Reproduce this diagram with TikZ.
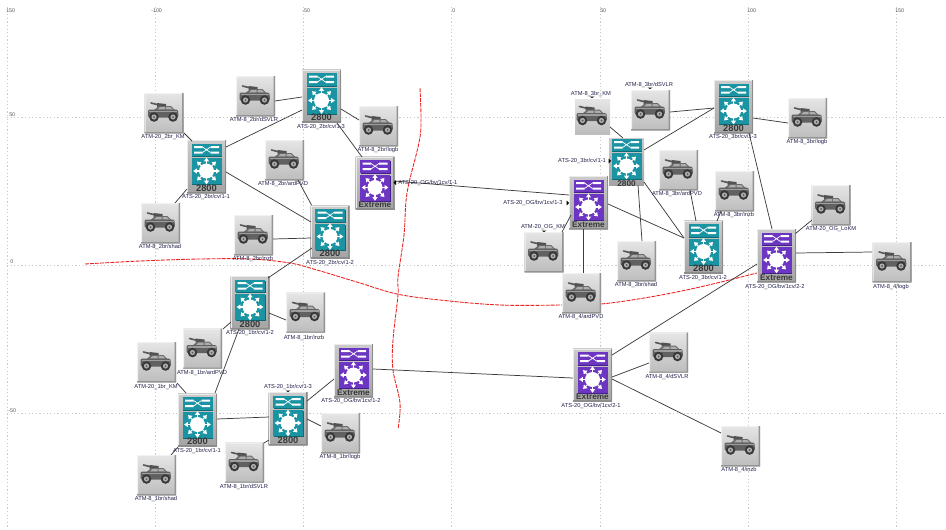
\documentclass[tikz,border=0pt]{standalone}
\usepackage{fontspec}
\setmainfont{Liberation Sans}
\definecolor{tealic}{HTML}{1A94A3}
\definecolor{tealdk}{HTML}{0E6A75}
\definecolor{purpic}{HTML}{6C35C2}
\definecolor{purpdk}{HTML}{43208A}
\definecolor{lblcol}{HTML}{20204A}
\definecolor{gridcol}{HTML}{C8C8C8}
\definecolor{linkcol}{HTML}{3C3C3C}
\definecolor{redcol}{HTML}{EE2020}
% main colour, dark colour, caption, caption font size, scale
\newcommand\swpic[5]{%
 \begin{scope}[shift={(path picture bounding box.center)},scale=#5]
  \fill[black!8] (-19.5,-26.5) rectangle (19.5,-25.5);
  \fill[black!8] (-19.5,-26.5) rectangle (-18.5,26.5);
  \fill[black!45] (19.5,-26.5) rectangle (18,26.5);
  \fill[black!45] (-19.5,26.5) rectangle (19.5,25.2);
  \fill[#2] (-14.5,-22) rectangle (15.5,-9.5);
  \fill[#1] (-15,-23) rectangle (15,-10.5);
  \fill[#2] (-14.5,-7.5) rectangle (15.5,18.5);
  \fill[#1] (-15,-8.5) rectangle (15,17.5);
  \fill[white] (-12.5,-20.5) rectangle (-4,-18.5) (4,-20.5) rectangle (12.5,-18.5)
               (-12.5,-15) rectangle (-4,-13) (4,-15) rectangle (12.5,-13);
  \draw[white,line width=.55pt] (-4,-19.5) -- (4,-14) (-4,-14) -- (4,-19.5);
  \fill[white] (0,4.5) circle (7.5);
  \foreach \a in {0,45,...,315}{
   \draw[white,line width=.8pt] (0,4.5) -- ++(\a:11);
   \fill[white] ([shift={(\a:13.3)}]0,4.5) -- ([shift={(\a+15:10)}]0,4.5) -- ([shift={(\a-15:10)}]0,4.5) -- cycle;
  }
  \node[inner sep=0pt,text=black!78,scale=#5] at (0,21.7) {\fontsize{#4}{#4}\selectfont\bfseries #3};
 \end{scope}}
% scale
\newcommand\vhpic[1]{%
 \begin{scope}[shift={(path picture bounding box.center)},scale=#1]
  \fill[black!5] (-19.5,-20) rectangle (19.5,-19) (-19.5,-20) rectangle (-18.5,20);
  \fill[black!42] (19.5,-20) rectangle (18,20) (-19.5,20) rectangle (19.5,19.2);
  \draw[black!65,line width=1.2pt,line cap=round] (-3,-7.5) -- (-13,-10);
  \fill[black!68] (-7,-10) -- (2,-9) -- (2,-6) -- (-7,-6) -- cycle;
  \fill[black!58] (-10,-3) -- (-5,-7) -- (7,-7) -- (11,-3) -- cycle;
  \fill[black!32] (-4,-6) -- (1,-6) -- (1,-3.5) -- (-6.5,-3.5) -- cycle (2,-6) -- (6.5,-6) -- (9,-3.5) -- (2,-3.5) -- cycle;
  \fill[black!62,rounded corners=1pt] (-16,-3.5) -- (14,-3.5) -- (14.5,4.5) -- (-16,4.5) -- cycle;
  \fill[black!38] (-15,-2.5) rectangle (13,-.8);
  \foreach \wx in {-10,9}{
   \fill[black!78] (\wx,4) circle (4.8);
   \fill[black!32] (\wx,4) circle (2.6);
   \fill[black!65] (\wx,4) circle (1);
  }
 \end{scope}}
\tikzset{
 x=.75pt,y=-.75pt,
 swbox/.style={rectangle,inner sep=0pt,outer sep=0pt,minimum width=29.25pt,minimum height=39.75pt,
   top color=black!20,bottom color=black!36,path picture={\swpic{tealic}{tealdk}{2800}{7pt}{1}}},
 swsmall/.style={rectangle,inner sep=0pt,outer sep=0pt,minimum width=26.25pt,minimum height=35.25pt,
   top color=black!20,bottom color=black!36,path picture={\swpic{tealic}{tealdk}{2800}{7pt}{0.89}}},
 exbox/.style={rectangle,inner sep=0pt,outer sep=0pt,minimum width=29.25pt,minimum height=39.75pt,
   top color=black!20,bottom color=black!36,path picture={\swpic{purpic}{purpdk}{Extreme}{6.2pt}{1}}},
 vhbox/.style={rectangle,inner sep=0pt,outer sep=0pt,minimum width=29.25pt,minimum height=30pt,
   top color=black!10,bottom color=black!26,path picture={\vhpic{1}}},
 vhsmall/.style={rectangle,inner sep=0pt,outer sep=0pt,minimum width=26.25pt,minimum height=26.25pt,
   top color=black!10,bottom color=black!26,path picture={\vhpic{0.88}}},
 lbl/.style={inner sep=0pt,text=lblcol,font=\fontsize{4.3pt}{5pt}\selectfont},
 axlbl/.style={inner sep=0pt,text=black!65,font=\fontsize{4pt}{5pt}\selectfont,anchor=west},
 gridline/.style={gridcol,line width=.6pt,dash pattern=on .9pt off 1.8pt},
 linkline/.style={linkcol,line width=.55pt},
 redline/.style={redcol,line width=.65pt,dash pattern=on 3pt off .8pt},
 tick/.style={fill=black,draw=none},
}
\newcommand\lnk[6]{\draw[linkline] ([shift={(#2,#3)}]#1.center) -- ([shift={(#5,#6)}]#4.center);}
\begin{document}
\begin{tikzpicture}
\useasboundingbox (0,0) rectangle (946,529);
\fill[white] (0,0) rectangle (946,529);
% grid
\foreach \gx in {7,155,303,451,600,748,896}{\draw[gridline] (\gx,7) -- (\gx,529);}
\foreach \gy in {117,265,413}{\draw[gridline] (7,\gy) -- (946,\gy);}
\node[axlbl] (tx1) at (6,11) {150};
\node[axlbl] (tx2) at (151,11) {-100};
\node[axlbl] (tx3) at (302,11) {-50};
\node[axlbl] (tx4) at (452,11) {0};
\node[axlbl] (tx5) at (600,11) {50};
\node[axlbl] (tx6) at (747,11) {100};
\node[axlbl] (tx7) at (895,11) {150};
\node[axlbl] (ty1) at (9,115) {50};
\node[axlbl] (ty2) at (10,262) {0};
\node[axlbl] (ty3) at (8,411) {-50};
% red boundaries
\draw[redline] plot[smooth,tension=.6] coordinates {(420,88) (421,125) (418,147) (407,193) (404,235) (398,277) (398,295) (393,340) (393,370) (400,403) (398,429)};
\draw[redline] plot[smooth,tension=.6] coordinates {(85,264) (140,261) (200,259) (250,259) (290,263) (317,270) (360,283) (397,294) (440,300) (500,305) (562,305) (601,304) (650,297) (700,287) (757,273)};
% nodes: 2br
\node[swbox] (a1) at (206.5,166.5) {};
\node[swbox] (a3) at (321.5,96) {};
\node[swbox] (a2) at (330,232) {};
\node[exbox] (ea) at (375,183) {};
\node[vhbox] (ak) at (164,113) {};
\node[vhbox] (ad) at (255.5,96) {};
\node[vhbox] (al) at (378.5,126) {};
\node[vhbox] (ap) at (284.5,160) {};
\node[vhbox] (as) at (160.5,223) {};
\node[vhbox] (ai) at (253.5,235) {};
% 1br
\node[swbox] (b2) at (250,302.5) {};
\node[swbox] (b1) at (197.5,420) {};
\node[swbox] (b3) at (288,418.5) {};
\node[exbox] (eb) at (353.5,370.5) {};
\node[vhbox] (bi) at (305.5,312.5) {};
\node[vhbox] (bp) at (202.5,348.5) {};
\node[vhbox] (bk) at (156.5,362) {};
\node[vhbox] (bl) at (340.5,433) {};
\node[vhbox] (bd) at (244.5,462.5) {};
\node[vhbox] (bs) at (156.5,475) {};
% 3br
\node[swbox] (c3) at (733.5,106.5) {};
\node[swsmall] (c1) at (626.5,161.5) {};
\node[swbox] (c2) at (703.5,247) {};
\node[exbox] (ec) at (588.5,202.5) {};
\node[vhsmall] (ck) at (592.5,116.5) {};
\node[vhbox] (cd) at (650.5,110) {};
\node[vhbox] (cl) at (807.5,118) {};
\node[vhbox] (cp) at (678.5,170) {};
\node[vhbox] (ci) at (734.5,191) {};
\node[vhbox] (cs) at (636.5,261) {};
\node[vhbox] (ok) at (544,252) {};
% 4
\node[exbox] (ed2) at (776.5,255.5) {};
\node[exbox] (ed1) at (592.5,375) {};
\node[vhbox] (dp) at (581.5,293) {};
\node[vhbox] (dd) at (668.5,352.5) {};
\node[vhbox] (di) at (740.5,446) {};
\node[vhbox] (dl) at (892,262) {};
\node[vhbox] (lk) at (831,205) {};
% links
\lnk{ak}{20}{20}{a1}{-14.5}{-25.5}
\lnk{as}{14.5}{-20}{a1}{-19.5}{22.5}
\lnk{a1}{19.5}{-19.5}{a3}{-19.5}{14}
\lnk{a1}{19.5}{5.5}{a2}{-19}{-10}
\lnk{ad}{19.5}{5}{a3}{-19.5}{1}
\lnk{a3}{19.5}{13}{al}{-19.5}{-6}
\lnk{a3}{15.5}{27}{ea}{-13}{-26}
\lnk{ap}{13.5}{20}{a2}{-18.5}{-27}
\lnk{ai}{19.5}{4}{a2}{-19}{6}
\lnk{a2}{-18}{16}{b2}{18}{-24.5}
\lnk{bp}{20.5}{-19.5}{b2}{-19}{19.5}
\lnk{b2}{19}{10.5}{bi}{-19.5}{7.5}
\lnk{b2}{-11}{26.5}{b1}{17.5}{-27}
\lnk{bk}{20.5}{21}{b1}{-11.5}{-27}
\lnk{bs}{14.5}{-20}{b1}{-19.5}{27}
\lnk{b1}{19.5}{-1}{b3}{-19}{-1.5}
\lnk{b3}{19}{-17.5}{eb}{-19.5}{8.5}
\lnk{b3}{19}{.5}{bl}{-19.5}{-7}
\lnk{b3}{-19}{21.5}{bd}{19.5}{-19.5}
\lnk{eb}{19.5}{-1.5}{ed1}{-19.5}{3}
\lnk{ea}{19}{-2}{ec}{-19.5}{-7.5}
\lnk{ck}{17.5}{10.5}{c1}{-3.5}{-23.5}
\lnk{c1}{17.5}{-11.5}{c3}{-19.5}{1.5}
\lnk{cd}{19.5}{2}{c3}{-19.5}{1.5}
\lnk{c1}{17.5}{20.5}{c2}{-19.5}{-9}
\lnk{c1}{11.5}{23.5}{cs}{5.5}{-20}
\lnk{ec}{19.5}{1.5}{c2}{-19.5}{-9}
\lnk{cp}{11.5}{20}{c2}{-7.5}{-26}
\lnk{ci}{-13.5}{20}{c2}{13.5}{-26}
\lnk{c3}{19.5}{11.5}{cl}{-19.5}{5}
\lnk{c3}{15.5}{26.5}{ed2}{-4.5}{-26.5}
\lnk{ec}{-5.5}{26.5}{dp}{1.5}{-20}
\lnk{ok}{18}{-20}{ec}{-17.5}{12.5}
\lnk{ed2}{19}{-22}{lk}{-19}{15}
\lnk{ed2}{19.5}{-2.5}{dl}{-20}{-10}
\lnk{ed1}{19.5}{-20}{ed2}{-19.5}{8.5}
\lnk{ed1}{19.5}{2}{dd}{-19.5}{10.5}
\lnk{ed1}{19.5}{4}{di}{-19.5}{-13}
% labels
\node[lbl] (la1) at (206,197) {ATS-20\_2br/cv/1-1};
\node[lbl] (la3) at (321,127) {ATS-20\_2br/cv/1-3};
\node[lbl] (la2) at (330,262.5) {ATS-20\_2br/cv/1-2};
\node[lbl,anchor=west] (lea) at (398,183) {ATS-20\_OG/bv/1cv/1-1};
\node[lbl] (lak) at (163,137) {ATM-20\_2br\_KM};
\node[lbl] (lad) at (254,119.5) {ATM-8\_2br/dSVLR};
\node[lbl] (lal) at (378,150) {ATM-8\_2br/logb};
\node[lbl] (lap) at (283,184) {ATM-8\_2br/ardPVD};
\node[lbl] (las) at (160,247) {ATM-8\_2br/shad};
\node[lbl] (lai) at (253,259) {ATM-8\_2br/inzb};
\node[lbl] (lb2) at (250,333) {ATS-20\_1br/cv/1-2};
\node[lbl] (lb1) at (197,451) {ATS-20\_1br/cv/1-1};
\node[lbl] (lb3) at (288,387) {ATS-20\_1br/cv/1-3};
\node[lbl] (leb) at (351,401) {ATS-20\_OG/bv/1cv/1-2};
\node[lbl] (lbi) at (304,338) {ATM-8\_1br/inzb};
\node[lbl] (lbp) at (202,373) {ATM-8\_1br/ardPVD};
\node[lbl] (lbk) at (156,387) {ATM-20\_1br\_KM};
\node[lbl] (lbl) at (340,457) {ATM-8\_1br/logb};
\node[lbl] (lbd) at (244,487) {ATM-8\_1br/dSVLR};
\node[lbl] (lbs) at (156,499) {ATM-8\_1br/shad};
\node[lbl] (lc3) at (733,137) {ATS-20\_3br/cv/1-3};
\node[lbl] (lc1) at (582,161) {ATS-20\_3br/cv/1-1};
\node[lbl] (lc2) at (703,278) {ATS-20\_3br/cv/1-2};
\node[lbl] (lec) at (533,203) {ATS-20\_OG/bv/1cv/1-3};
\node[lbl] (lck) at (591,94) {ATM-8\_3br\_KM};
\node[lbl] (lcd) at (649,85) {ATM-8\_3br/dSVLR};
\node[lbl] (lcl) at (807,142) {ATM-8\_3br/logb};
\node[lbl] (lcp) at (677,194) {ATM-8\_3br/ardPVD};
\node[lbl] (lci) at (734,215) {ATM-8\_3br/inzb};
\node[lbl] (lcs) at (636,285) {ATM-8\_3br/shad};
\node[lbl] (lok) at (543,227) {ATM-20\_OG\_KM};
\node[lbl] (led2) at (775,287) {ATS-20\_OG/bv/1cv/2-2};
\node[lbl] (led1) at (591,406) {ATS-20\_OG/bv/1cv/2-1};
\node[lbl] (ldp) at (581,317) {ATM-8\_4/ardPVD};
\node[lbl] (ldd) at (667,377) {ATM-8\_4/dSVLR};
\node[lbl] (ldi) at (739,470) {ATM-8\_4/inzb};
\node[lbl] (ldl) at (891,287) {ATM-8\_4/logb};
\node[lbl] (llk) at (831,229) {ATM-20\_OG\_LoKM};
% small black markers beside some labels
\fill[tick] (393.5,182.5) -- (396,180) -- (396,185) -- cycle;
\fill[tick] (611,161) -- (608.5,158.5) -- (608.5,163.5) -- cycle;
\fill[tick] (569,203) -- (566.5,200.5) -- (566.5,205.5) -- cycle;
\fill[tick] (592,98) -- (589.5,96.5) -- (594.5,96.5) -- cycle;
\fill[tick] (650,89) -- (647.5,87.5) -- (652.5,87.5) -- cycle;
\fill[tick] (544,232) -- (541.5,230.5) -- (546.5,230.5) -- cycle;
\fill[tick] (288,392) -- (285.5,390.5) -- (290.5,390.5) -- cycle;
\end{tikzpicture}
\end{document}
